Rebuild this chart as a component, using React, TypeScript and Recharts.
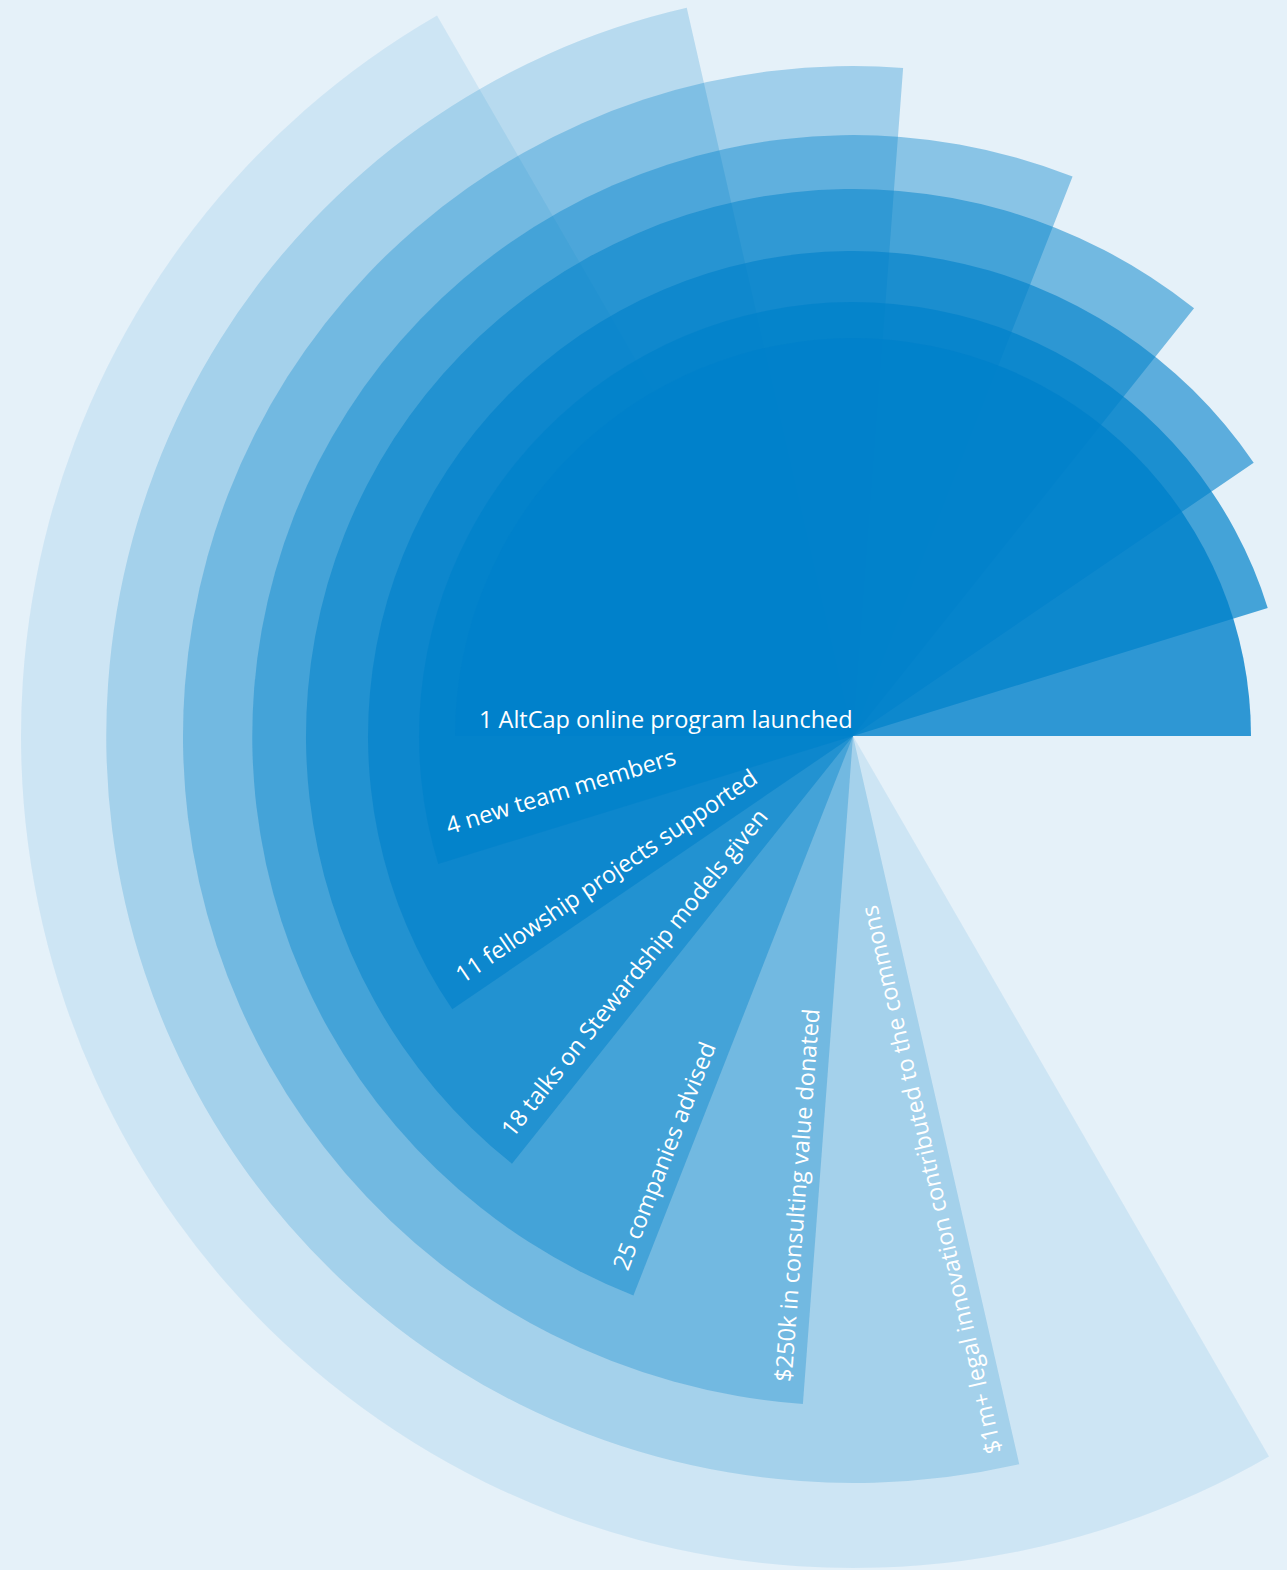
import React from 'react';
import { PieChart, Pie, Cell } from 'recharts';

// Sector labels (innermost first)
const labels: string[] = [
  '1 AltCap online program launched',
  '4 new team members',
  '11 fellowship projects supported',
  '18 talks on Stewardship models given',
  '25 companies advised',
  '$250k in consulting value donated',
  '$1m+ legal innovation contributed to the commons',
  '',
];
// Outer radius of every half-disc sector (px)
const radii: number[] = [398, 434, 485, 547, 601, 670, 747, 832];
// Rotation of each half-disc (degrees, counter-clockwise from 3 o'clock)
const startAngles: number[] = [0, 17.14, 34.29, 51.43, 68.57, 85.71, 102.86, 120];
const sweep = 180;
const opacities: number[] = [0.8, 0.7, 0.6, 0.5, 0.4, 0.3, 0.2, 0.1];

// label layout: distance in from the arc, and distance from the sector edge
const labelInset: number[] = [24, 19, 23, 20, 20, 21, 16, 20];
const labelLift: number[] = [8, 25, 15, 15, 14, 13, 14, 10];

const BASE = '#0081CA';
const BG = '#E5F1F9';
const W = 1287;
const H = 1570;
const CX = 853;
const CY = 736;

const makeLabel = (i: number) => (props: any) => {
  const text = labels[i];
  if (!text) return null;
  const cx = typeof props.cx === 'number' ? props.cx : CX;
  const cy = typeof props.cy === 'number' ? props.cy : CY;
  const r = radii[i];
  const theta = ((startAngles[i] + sweep) * Math.PI) / 180;
  const ux = Math.cos(theta);
  const uy = -Math.sin(theta);
  const startR = r - labelInset[i];
  const d = labelLift[i];
  const bx = cx + startR * ux + d * Math.sin(theta);
  const by = cy + startR * uy + d * Math.cos(theta);
  const rot = (Math.atan2(Math.sin(theta), -Math.cos(theta)) * 180) / Math.PI;
  return (
    <text
      key={`lbl-${i}`}
      x={bx}
      y={by}
      transform={`rotate(${rot} ${bx} ${by})`}
      fill="#FFFFFF"
      fontSize={23.5}
      fontFamily="'Open Sans', 'Noto Sans', sans-serif"
      textAnchor="start"
    >
      {text}
    </text>
  );
};

const order = [7, 6, 5, 4, 3, 2, 1, 0];

export default function App() {
  return (
    <div style={{ position: 'absolute', left: 0, top: 0, width: W, height: H, background: BG, overflow: 'hidden' }}>
      <PieChart width={W} height={H} margin={{ top: 0, right: 0, bottom: 0, left: 0 }}>
        {order.map((i) => (
          <Pie
            key={`pie-${i}`}
            data={[{ name: labels[i] || 'sector', value: 1 }]}
            dataKey="value"
            nameKey="name"
            cx={CX}
            cy={CY}
            innerRadius={0}
            outerRadius={radii[i]}
            startAngle={startAngles[i]}
            endAngle={startAngles[i] + sweep}
            stroke="none"
            isAnimationActive={false}
            labelLine={false}
            label={makeLabel(i)}
          >
            <Cell fill={BASE} fillOpacity={opacities[i]} stroke="none" />
          </Pie>
        ))}
      </PieChart>
    </div>
  );
}
